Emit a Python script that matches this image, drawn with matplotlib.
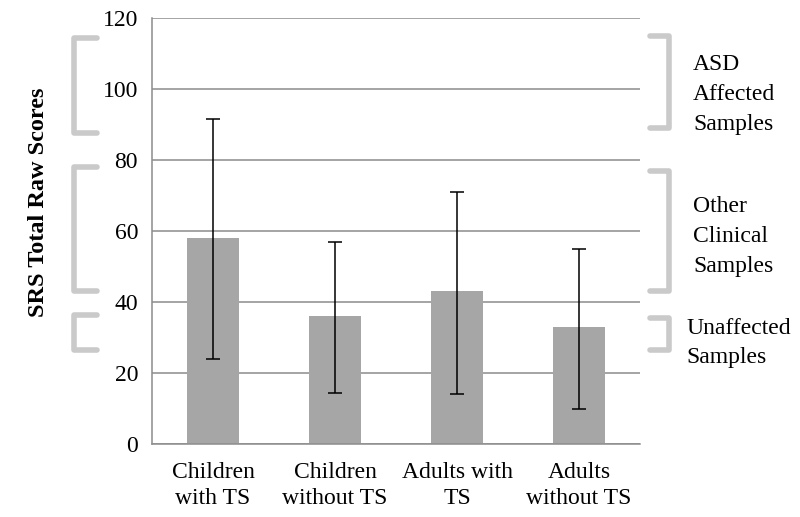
import matplotlib.pyplot as plt
import numpy as np

plt.rcParams['font.family'] = ['Liberation Serif', 'DejaVu Serif']

# data
groups = ['Children\nwith TS', 'Children\nwithout TS', 'Adults with\nTS', 'Adults\nwithout TS']
means = [58, 36, 43, 33]
err_low = [24, 14.5, 14, 10]
err_high = [91.5, 57, 71, 55]

# score ranges for the bracket annotations (low, high)
bracket_labels = ['ASD\nAffected\nSamples', 'Other\nClinical\nSamples', 'Unaffected\nSamples']
left_ranges = [(87.5, 114.5), (43, 78), (26.5, 36.3)]
right_ranges = [(89, 115), (43, 77), (26.5, 35.5)]

GRAY_BAR = '#a6a6a6'
GRAY_GRID = '#8c8c8c'
GRAY_BRACKET = '#cacaca'
FS = 17

fig = plt.figure(figsize=(8, 5.17), dpi=100)
ax = fig.add_axes([0.19, 0.141, 0.61, 0.824])

x = np.arange(len(groups))
yerr = [np.array(means) - np.array(err_low), np.array(err_high) - np.array(means)]
ax.bar(x, means, width=0.42, color=GRAY_BAR, zorder=2)
ax.errorbar(x, means, yerr=yerr, fmt='none', ecolor='black', elinewidth=1.1,
            capsize=5, capthick=1.1, zorder=3)

ax.set_xlim(-0.5, len(groups) - 0.5)
ax.set_ylim(0, 120)
ax.set_yticks(range(0, 121, 20))
ax.set_xticks(x)
ax.set_xticklabels(groups, fontsize=FS, linespacing=1.3)
ax.tick_params(axis='both', length=0, labelsize=FS)
ax.tick_params(axis='y', pad=10)
ax.tick_params(axis='x', pad=13)
ax.yaxis.grid(True, color=GRAY_GRID, linewidth=1.1, zorder=0)
ax.set_axisbelow(True)
for side in ['top', 'right']:
    ax.spines[side].set_visible(False)
for side in ['left', 'bottom']:
    ax.spines[side].set_color(GRAY_GRID)
    ax.spines[side].set_linewidth(1.1)

ax.set_ylabel('SRS Total Raw Scores', fontsize=17.5, fontweight='bold')
ax.yaxis.set_label_coords(-0.212, 0.568)

trans = ax.get_yaxis_transform()
for lo, hi in left_ranges:
    ax.plot([-0.113, -0.16, -0.16, -0.113], [hi, hi, lo, lo], color=GRAY_BRACKET,
            linewidth=4, transform=trans, clip_on=False, solid_joinstyle='round',
            solid_capstyle='round')
for lo, hi in right_ranges:
    ax.plot([1.02, 1.059, 1.059, 1.02], [hi, hi, lo, lo], color=GRAY_BRACKET,
            linewidth=4, transform=trans, clip_on=False, solid_joinstyle='round',
            solid_capstyle='round')

text_x = [1.109, 1.109, 1.096]
text_y = [98.5, 58.5, 28.5]
for label, ty, tx in zip(bracket_labels, text_y, text_x):
    ax.text(tx, ty, label, transform=trans, fontsize=FS,
            va='center', ha='left', linespacing=1.55)

fig.savefig('out.png', dpi=100)
